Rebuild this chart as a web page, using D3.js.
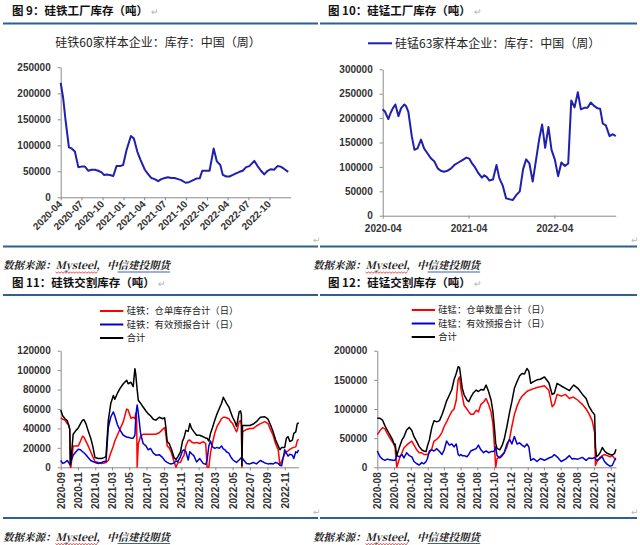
<!DOCTYPE html>
<html><head><meta charset="utf-8">
<script src="https://cdn.jsdelivr.net/npm/d3@7"></script>
<style>
body{margin:0;background:#fff;}
svg{display:block;background:#fff;}
</style></head><body>
<svg id="c" width="640" height="545"></svg>
<script>
// ---------------- DATA ----------------
// Fig 9: ferrosilicon, 60 sample plants, stock (t), weekly
const p1Dates = ["2020-04-01","2020-04-12","2020-04-22","2020-05-07","2020-05-19","2020-06-02","2020-06-17","2020-07-01","2020-07-16","2020-07-31","2020-08-14","2020-08-29","2020-09-12","2020-09-27","2020-10-07","2020-10-19","2020-11-02","2020-11-17","2020-12-01","2020-12-16","2020-12-30","2021-01-14","2021-02-02","2021-02-15","2021-03-02","2021-03-16","2021-04-04","2021-04-19","2021-05-03","2021-05-17","2021-06-01","2021-06-15","2021-06-30","2021-07-14","2021-07-29","2021-08-12","2021-08-27","2021-09-10","2021-09-29","2021-10-14","2021-10-28","2021-11-15","2021-11-30","2021-12-11","2021-12-29","2022-01-12","2022-01-30","2022-02-13","2022-02-28","2022-03-11","2022-03-26","2022-04-09","2022-04-24","2022-05-08","2022-05-23","2022-06-06","2022-06-21","2022-07-05","2022-07-27","2022-08-10","2022-08-25","2022-09-08","2022-09-23","2022-10-07","2022-10-21","2022-11-05","2022-11-19","2022-12-03","2022-12-22"];
const p1Stock = [220000,190000,149000,96000,94000,88000,58000,59000,59000,51000,53000,53000,51000,48000,43000,44000,43000,41000,60000,60000,62000,91000,118000,113000,88000,72000,53000,44000,37000,35000,31000,35000,37000,38500,37000,37000,35000,33000,28000,29000,32000,36000,36500,51000,51000,51000,94000,69000,62000,43000,40000,40000,43000,46000,49000,51000,58000,60000,70000,60000,51000,44000,51000,54000,53000,60000,59000,55000,49000];
const p1Ticks = ["2020-04","2020-07","2020-10","2021-01","2021-04","2021-07","2021-10","2022-01","2022-04","2022-07","2022-10"];
const p1YTicks = [0,50000,100000,150000,200000,250000];

// Fig 10: silicomanganese, 63 sample plants, stock (t), weekly
const p2Dates = ["2020-04-01","2020-04-11","2020-04-25","2020-05-05","2020-05-14","2020-05-25","2020-06-07","2020-06-18","2020-07-02","2020-07-09","2020-07-19","2020-08-03","2020-08-14","2020-08-27","2020-09-11","2020-09-24","2020-10-08","2020-10-24","2020-11-07","2020-11-21","2020-12-04","2020-12-18","2021-01-01","2021-01-17","2021-01-31","2021-02-17","2021-03-06","2021-03-23","2021-04-04","2021-04-16","2021-04-29","2021-05-13","2021-05-28","2021-06-07","2021-06-18","2021-06-29","2021-07-14","2021-07-29","2021-08-10","2021-08-25","2021-09-08","2021-09-24","2021-10-06","2021-10-21","2021-11-05","2021-11-19","2021-12-02","2021-12-16","2021-12-30","2022-01-13","2022-01-26","2022-02-08","2022-02-21","2022-03-07","2022-03-20","2022-04-03","2022-04-17","2022-05-01","2022-05-16","2022-05-30","2022-06-12","2022-06-26","2022-07-10","2022-07-23","2022-08-06","2022-08-20","2022-09-03","2022-09-17","2022-10-02","2022-10-13","2022-10-24","2022-11-06","2022-11-22","2022-12-06","2022-12-18"];
const p2Stock = [218000,213000,198000,211000,220000,228000,204000,220000,228000,225000,213000,162000,135000,138000,156000,138000,128000,117000,111000,97000,92000,90000,92000,97000,104000,109000,114000,119000,117000,107000,99000,87000,78000,83000,79000,72000,74000,104000,77000,61000,35500,33500,32000,42000,50000,95000,115500,107000,70000,114000,155000,187000,139000,182000,135000,115500,81000,109000,102000,107000,236000,222000,253000,218000,221000,221000,232000,225000,220000,219000,189000,185000,163000,167000,163000];
const p2Ticks = ["2020-04","2021-04","2022-04"];
const p2YTicks = [0,50000,100000,150000,200000,250000,300000];

// Fig 11: ferrosilicon delivery stock (t), daily
const p3Dates = ["2020-09-01","2020-09-08","2020-09-16","2020-09-24","2020-09-29","2020-10-03","2020-10-05","2020-10-07","2020-10-15","2020-10-25","2020-11-02","2020-11-10","2020-11-17","2020-11-22","2020-11-29","2020-12-07","2020-12-16","2020-12-23","2020-12-28","2020-12-31","2021-01-12","2021-01-23","2021-02-01","2021-02-08","2021-02-16","2021-02-25","2021-03-06","2021-03-11","2021-03-20","2021-03-29","2021-04-10","2021-04-22","2021-04-27","2021-05-07","2021-05-15","2021-05-21","2021-05-24","2021-05-27","2021-05-29","2021-06-02","2021-06-10","2021-06-19","2021-06-29","2021-07-07","2021-07-15","2021-07-25","2021-08-03","2021-08-15","2021-08-27","2021-09-03","2021-09-07","2021-09-12","2021-09-19","2021-09-27","2021-10-06","2021-10-13","2021-10-20","2021-10-29","2021-11-05","2021-11-10","2021-11-17","2021-11-25","2021-12-01","2021-12-07","2021-12-15","2021-12-25","2022-01-05","2022-01-17","2022-01-26","2022-01-31","2022-02-06","2022-02-12","2022-02-19","2022-02-27","2022-03-07","2022-03-15","2022-03-23","2022-03-29","2022-04-04","2022-04-09","2022-04-18","2022-04-24","2022-05-01","2022-05-09","2022-05-15","2022-05-18","2022-05-24","2022-05-29","2022-06-01","2022-06-03","2022-06-05","2022-06-19","2022-07-01","2022-07-13","2022-07-24","2022-08-07","2022-08-23","2022-09-03","2022-09-12","2022-09-21","2022-09-30","2022-10-09","2022-10-15","2022-10-21","2022-11-01","2022-11-07","2022-11-13","2022-11-19","2022-11-28","2022-12-03","2022-12-10","2022-12-15","2022-12-20"];
const p3Warrant = [51000,49500,48500,45000,43500,39000,0,0,22000,22000,22000,27000,32000,31000,27000,22000,16000,11000,8000,6000,5000,4000,4500,5000,7000,15000,22000,27000,33000,39000,47000,60000,59000,50500,51500,50000,56000,52000,0,24000,32000,34000,34000,34000,34000,34000,34000,35500,39000,41000,35000,22000,20000,15000,6000,0,5000,5000,10000,12000,22000,27500,28000,26000,25000,25500,24500,26500,24500,0,0,15000,25000,35000,42000,46000,50000,51500,51500,51000,50000,47000,45000,40000,36500,39000,47000,48000,44000,0,36500,39000,40000,40000,42500,45000,47000,45000,38500,33000,24000,18000,2500,6000,14000,16000,17000,18500,20000,20500,21000,27000,29000];
const p3Forecast = [7000,4000,5000,7000,5000,3000,2500,6000,12500,16000,18500,18000,16000,15000,13000,10000,7000,6000,5500,5000,4000,5000,6000,6000,41000,52000,57000,53000,44000,38500,33000,31000,31000,30000,30000,33000,50000,60000,64000,56000,35000,24500,22000,18000,19500,14500,12500,13000,10000,7000,6000,5000,4000,3500,4500,6500,6000,11000,17000,18000,16000,7500,16000,14000,12000,5500,9000,4000,3000,7500,22000,27000,21000,19500,20500,19500,22000,19000,18000,16000,14500,11000,8000,6000,5000,6000,7500,9000,10000,10000,9000,4000,3500,5000,3500,7000,4500,3500,4000,3500,5000,4000,2000,1500,18000,14500,11500,13500,12500,9000,16000,15000,18000];
const p3Total = [59000,53000,50000,48000,43500,39000,3000,6000,34000,38000,40500,45000,48500,49000,45000,37500,30000,22000,14500,10000,9000,9000,10000,11000,48000,66000,74000,70000,76000,81000,86000,89500,86000,87500,83000,101500,96000,86000,80000,69000,66000,62000,58000,55000,53000,49500,48500,51500,50000,51000,42000,26500,24500,18500,10000,8000,11000,16000,27000,30000,38000,37000,45000,40000,36700,33000,33000,31500,30000,30000,27000,35000,41000,48500,55000,60500,66000,72000,69000,66000,62000,57000,51500,47000,42000,47000,57000,58000,54000,1500,43000,43000,43000,44500,47000,51500,52000,49500,43500,36500,28000,22000,18000,20500,20500,30000,31500,26500,28000,35000,36500,44500,46000];
const p3Ticks = ["2020-09","2020-11","2021-01","2021-03","2021-05","2021-07","2021-09","2021-11","2022-01","2022-03","2022-05","2022-07","2022-09","2022-11"];
const p3YTicks = [0,20000,40000,60000,80000,100000,120000];
const p3Names = ["硅铁：仓单库存合计（日）","硅铁：有效预报合计（日）","合计"];

// Fig 12: silicomanganese delivery stock (t), daily
const p4Dates = ["2020-08-01","2020-08-11","2020-08-20","2020-08-29","2020-09-06","2020-09-16","2020-09-26","2020-10-01","2020-10-05","2020-10-11","2020-10-21","2020-10-30","2020-11-06","2020-11-16","2020-11-26","2020-12-05","2020-12-13","2020-12-23","2021-01-01","2021-01-10","2021-01-18","2021-01-26","2021-01-31","2021-02-07","2021-02-16","2021-02-24","2021-03-06","2021-03-16","2021-03-25","2021-04-02","2021-04-11","2021-04-21","2021-04-30","2021-05-08","2021-05-16","2021-05-23","2021-05-28","2021-06-02","2021-06-07","2021-06-14","2021-06-24","2021-07-01","2021-07-08","2021-07-18","2021-07-28","2021-08-05","2021-08-14","2021-08-24","2021-09-02","2021-09-11","2021-09-20","2021-09-27","2021-10-02","2021-10-07","2021-10-12","2021-10-22","2021-10-31","2021-11-07","2021-11-17","2021-11-27","2021-12-05","2021-12-14","2021-12-24","2022-01-02","2022-01-11","2022-01-20","2022-01-29","2022-02-05","2022-02-12","2022-02-22","2022-03-07","2022-03-19","2022-04-03","2022-04-19","2022-05-01","2022-05-09","2022-05-19","2022-06-03","2022-06-19","2022-07-03","2022-07-13","2022-07-19","2022-08-03","2022-08-19","2022-09-02","2022-09-12","2022-09-24","2022-10-03","2022-10-06","2022-10-10","2022-10-19","2022-10-25","2022-10-31","2022-11-08","2022-11-18","2022-11-28","2022-12-06","2022-12-15","2022-12-20"];
const p4Warrant = [56000,63000,68000,66000,58000,50000,43000,39000,33000,0,15000,25000,33000,38000,42000,45000,38000,30000,25000,25000,22000,22000,22000,25000,32000,45000,48000,53000,60000,70000,78000,88000,96000,100000,115000,150000,155000,135000,122000,106000,100000,95000,91000,91000,98000,95000,108000,112000,118000,108000,95000,75000,40000,0,15000,18000,22000,25000,35000,50000,70000,90000,105000,115000,122000,126000,130000,132000,133000,135000,137000,138000,140000,132000,104000,108000,125000,122000,125000,118000,120000,120000,115000,108000,100000,92000,80000,60000,3000,8000,15000,18000,20000,22000,20000,18000,20000,15000,15000];
const p4Forecast = [28000,18000,14000,12000,14000,13000,12000,12000,12000,20000,18000,22000,16000,25000,20000,18000,10000,6000,4000,8000,6000,10000,15000,28000,30000,28000,32000,27000,22000,30000,45000,38000,40000,35000,40000,22000,20000,22000,20000,20000,18000,22000,28000,30000,32000,38000,30000,25000,28000,25000,27000,27000,28000,35000,20000,16000,20000,25000,40000,48000,40000,53000,40000,42000,38000,35000,40000,35000,12000,15000,10000,15000,12000,16000,18000,22000,18000,10000,14000,20000,14000,15000,14000,17000,12000,16000,15000,17000,15000,12000,14000,16000,18000,10000,5000,2000,3000,12000,15000];
const p4Total = [84000,84000,81000,71000,64000,55500,47000,40000,40000,20000,35000,47000,52000,64000,68500,63000,52500,44000,35500,30000,28000,27000,36500,47000,68500,80000,78000,80000,90000,101000,114000,124000,133500,150000,161000,172500,171500,154000,135500,124000,115500,112500,120000,128000,132500,130000,133500,132500,141000,130000,115500,95500,70000,41000,32500,30000,38000,48000,70000,95000,112500,135000,147000,156500,161000,160000,169500,165000,144000,147000,150000,151000,155000,145000,125000,127000,144000,139500,135500,131500,138000,141000,135500,125500,118000,105000,95500,90000,35000,18000,22000,27000,34000,28000,24000,22000,21000,24000,31000];
const p4Ticks = ["2020-08","2020-10","2020-12","2021-02","2021-04","2021-06","2021-08","2021-10","2021-12","2022-02","2022-04","2022-06","2022-08","2022-10","2022-12"];
const p4YTicks = [0,50000,100000,150000,200000];
const p4Names = ["硅锰：仓单数量合计（日）","硅锰：有效预报合计（日）","合计"];

const figTitles = ["图 9：硅铁工厂库存（吨）","图 10：硅锰工厂库存（吨）","图 11：硅铁交割库存（吨）","图 12：硅锰交割库存（吨）"];
const chartTitle1 = "硅铁60家样本企业：库存：中国（周）";
const legendName2 = "硅锰63家样本企业：库存：中国（周）";
const sourceText = "数据来源：Mysteel，中信建投期货";

// ---------------- DRAWING ----------------
const svg = d3.select("#c");
const parseDay = d3.timeParse("%Y-%m-%d");
const parseMonth = d3.timeParse("%Y-%m");
const CJK = '"Noto Sans CJK SC","Noto Sans",sans-serif';
const NUM = '"Liberation Sans",Arial,"Noto Sans CJK SC",sans-serif';
const RULE = "#2f5f8c";
const AXIS = "#8a8a8a";
const LINEBLUE = "#2020b0";

function rule(x1, x2, y) {
  svg.append("line").attr("x1", x1).attr("x2", x2).attr("y1", y).attr("y2", y)
    .attr("stroke", RULE).attr("stroke-width", 2);
}
function figTitle(x, y, t) {
  const tx = svg.append("text").attr("x", x).attr("y", y)
    .attr("font-family", CJK).attr("font-size", 11.5).attr("font-weight", "bold").attr("fill", "#111").text(t);
  tx.append("tspan").attr("fill", "#b0b0b0").attr("font-weight", "normal").attr("font-size", 9).attr("dx", 3).text("↵");
}
function source(x, y) {
  const t = svg.append("text").attr("x", x).attr("y", y)
    .attr("font-family", '"Noto Serif CJK SC","Liberation Serif","Noto Sans CJK SC",serif')
    .attr("font-size", 10.5).attr("font-style", "italic").attr("font-weight", "bold").attr("fill", "#222").text(sourceText);
  const n = t.node();
  try {
    const a = n.getExtentOfChar(5), b = n.getExtentOfChar(11);
    const x0 = a.x, x1 = b.x + b.width, yy = y + 3;
    let d = `M${x0},${yy}`;
    for (let xx = x0, k = 0; xx < x1; xx += 1.5, k++) d += `L${xx + 1.5},${yy + (k % 2 ? 0 : 1.2)}`;
    svg.append("path").attr("d", d).attr("fill", "none").attr("stroke", "#e02020").attr("stroke-width", 0.8);
    const c = n.getExtentOfChar(14), e = n.getExtentOfChar(18);
    svg.append("line").attr("x1", c.x).attr("x2", e.x + e.width).attr("y1", y + 3).attr("y2", y + 3)
      .attr("stroke", "#3a5fc0").attr("stroke-width", 1);
  } catch (err) {}
}
function returnMark(x, y) {
  svg.append("text").attr("x", x).attr("y", y).attr("font-family", '"DejaVu Sans",sans-serif')
    .attr("font-size", 9).attr("fill", "#b8b8b8").text("↵");
}

function axes(cfg) {
  const x = d3.scaleTime().domain([parseDay(cfg.xStart), parseDay(cfg.xEnd)]).range([cfg.x0, cfg.x1]);
  const y = d3.scaleLinear().domain([0, cfg.yMax]).range([cfg.yB, cfg.yT]);
  const g = svg.append("g");
  const ya = g.append("g").attr("transform", `translate(${cfg.x0},0)`)
    .call(d3.axisLeft(y).tickValues(cfg.yTicks).tickSize(3).tickSizeOuter(0).tickPadding(7).tickFormat(d3.format("d")));
  const xa = g.append("g").attr("transform", `translate(0,${cfg.yB})`)
    .call(d3.axisBottom(x).tickValues(cfg.xTicks.map(parseMonth)).tickSize(3).tickSizeOuter(0).tickFormat(d3.timeFormat("%Y-%m")));
  [ya, xa].forEach(a => {
    a.selectAll("path,line").attr("stroke", AXIS).attr("stroke-width", 1);
    a.selectAll("text").attr("font-family", NUM).attr("font-size", 10).attr("font-weight", "bold").attr("fill", "#333");
  });
  if (cfg.rot === 45) {
    xa.selectAll("text").attr("text-anchor", "end").attr("x", -4).attr("y", 3).attr("dy", "0.35em")
      .attr("transform", "rotate(-45)");
  } else if (cfg.rot === 90) {
    xa.selectAll("text").attr("text-anchor", "end").attr("x", -5).attr("y", 0).attr("dy", "0.35em")
      .attr("transform", "rotate(-90)");
  } else {
    xa.selectAll("text").attr("y", 9);
  }
  return {x, y, g};
}

function drawLine(sc, dates, vals, color, w) {
  const pts = dates.map((d, i) => [parseDay(d), vals[i]]);
  sc.g.append("path").datum(pts)
    .attr("d", d3.line().x(p => sc.x(p[0])).y(p => sc.y(p[1])))
    .attr("fill", "none").attr("stroke", color).attr("stroke-width", w).attr("stroke-linejoin", "round");
}

function legendItem(x1, x2, tx, y, color, label, fs) {
  svg.append("line").attr("x1", x1).attr("x2", x2).attr("y1", y).attr("y2", y).attr("stroke", color).attr("stroke-width", 2);
  svg.append("text").attr("x", tx).attr("y", y).attr("dy", "0.36em").attr("font-family", CJK)
    .attr("font-size", fs).attr("fill", "#222").text(label);
}

// Frame: titles, rules, sources
figTitle(12, 15, figTitles[0]);
figTitle(328, 15, figTitles[1]);
figTitle(12, 287, figTitles[2]);
figTitle(328, 287, figTitles[3]);
rule(3, 318, 23.5); rule(320, 637, 23.5);
rule(3, 318, 246.5); rule(320, 637, 246.5);
rule(3, 318, 295); rule(320, 637, 295);
rule(3, 318, 518); rule(320, 637, 518);
source(3, 269); source(313, 269);
source(3, 540.5); source(313, 540.5);
returnMark(313, 243); returnMark(631, 243);
returnMark(313, 515); returnMark(631, 515);

// Fig 9
const s1 = axes({xStart: "2020-04-01", xEnd: "2023-01-01", x0: 60.7, x1: 290.5, yB: 197.3, yT: 67.3, yMax: 250000,
  yTicks: p1YTicks, xTicks: p1Ticks, rot: 45});
svg.append("text").attr("x", 158).attr("y", 43).attr("dy", "0.36em").attr("text-anchor", "middle")
  .attr("font-family", CJK).attr("font-size", 12).attr("fill", "#222").text(chartTitle1);
drawLine(s1, p1Dates, p1Stock, LINEBLUE, 2);

// Fig 10
const s2 = axes({xStart: "2020-04-01", xEnd: "2022-12-18", x0: 382.7, x1: 615.7, yB: 215.7, yT: 69.3, yMax: 300000,
  yTicks: p2YTicks, xTicks: p2Ticks, rot: 0});
legendItem(368, 392, 395, 43.3, LINEBLUE, legendName2, 12);
drawLine(s2, p2Dates, p2Stock, LINEBLUE, 2);

// Fig 11
const s3 = axes({xStart: "2020-09-01", xEnd: "2022-12-20", x0: 60.7, x1: 298.6, yB: 467.3, yT: 350.7, yMax: 120000,
  yTicks: p3YTicks, xTicks: p3Ticks, rot: 90});
const cols = ["#ff0000", "#0000d0", "#000000"];
[p3Warrant, p3Forecast, p3Total].forEach((v, i) => drawLine(s3, p3Dates, v, cols[i], 1.5));
[311, 324.5, 338].forEach((yy, i) => legendItem(100, 123.3, 126.7, yy, cols[i], p3Names[i], 9.3));

// Fig 12
const s4 = axes({xStart: "2020-08-01", xEnd: "2022-12-20", x0: 377.3, x1: 616, yB: 467.3, yT: 350.7, yMax: 200000,
  yTicks: p4YTicks, xTicks: p4Ticks, rot: 90});
[p4Warrant, p4Forecast, p4Total].forEach((v, i) => drawLine(s4, p4Dates, v, cols[i], 1.5));
[310, 323.5, 337].forEach((yy, i) => legendItem(411.7, 435, 438.3, yy, cols[i], p4Names[i], 9.3));
</script>
</body></html>
